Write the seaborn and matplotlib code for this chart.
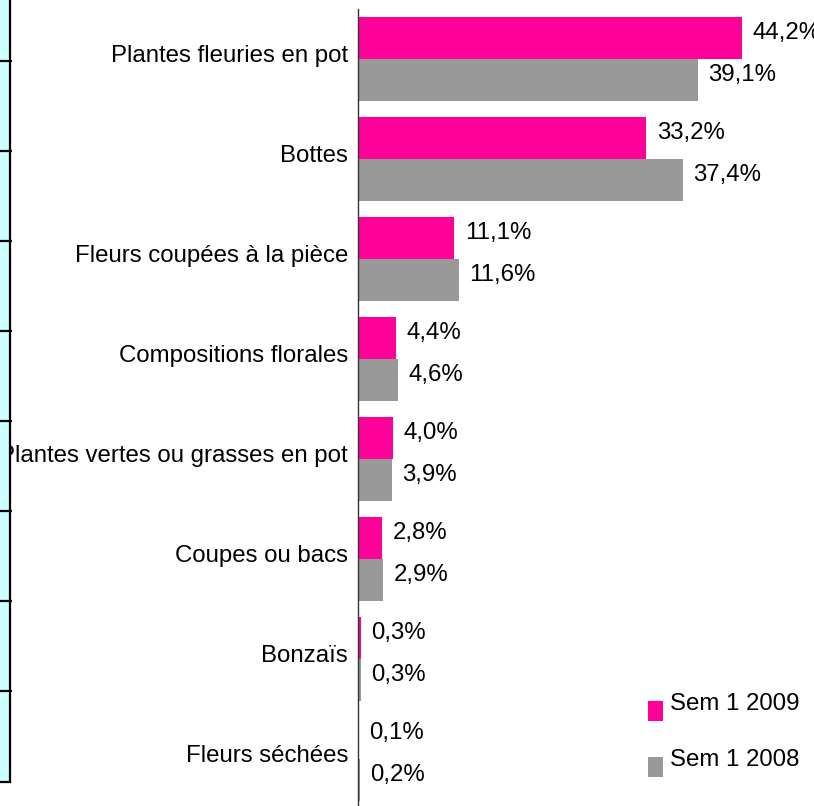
import matplotlib
matplotlib.use("Agg")
import matplotlib.pyplot as plt
import matplotlib.transforms as mtransforms
from matplotlib.patches import Rectangle
from matplotlib.legend_handler import HandlerPatch
import seaborn as sns
import pandas as pd

categories = [
    "Plantes fleuries en pot",
    "Bottes",
    "Fleurs coupées à la pièce",
    "Compositions florales",
    "Plantes vertes ou grasses en pot",
    "Coupes ou bacs",
    "Bonzaïs",
    "Fleurs séchées",
]
series_names = ["Sem 1 2009", "Sem 1 2008"]
values_2009 = [44.2, 33.2, 11.1, 4.4, 4.0, 2.8, 0.3, 0.1]
values_2008 = [39.1, 37.4, 11.6, 4.6, 3.9, 2.9, 0.3, 0.2]
colors = ["#FF0099", "#999999"]

df = pd.DataFrame({
    "cat": categories * 2,
    "value": values_2009 + values_2008,
    "series": [series_names[0]] * len(categories) + [series_names[1]] * len(categories),
})

sns.set_style("white")
plt.rcParams["font.family"] = ["Liberation Sans", "DejaVu Sans"]
plt.rcParams["text.color"] = "black"
FS = 17.3

W, H = 814, 806
fig = plt.figure(figsize=(W / 100, H / 100), dpi=100)
ax = fig.add_axes([358 / W, 0, (W - 358) / W, (H - 9) / H])

sns.barplot(data=df, x="value", y="cat", hue="series", palette=colors,
            order=categories, hue_order=series_names, orient="h",
            width=0.84, saturation=1, linewidth=0, ax=ax)

ax.set_xlim(0, (W - 358) / 8.688)
ax.set_ylim((H - 59) / 100, -0.5)
ax.set_xlabel("")
ax.set_ylabel("")
ax.set_xticks([])
ax.tick_params(axis="y", length=0, pad=7.2, labelsize=FS, colors="black")
up = mtransforms.ScaledTranslation(0, 4 / 72, fig.dpi_scale_trans)
for lab in ax.get_yticklabels():
    lab.set_transform(lab.get_transform() + up)
for s in ["top", "right", "bottom"]:
    ax.spines[s].set_visible(False)
ax.spines["left"].set_color("#333333")
ax.spines["left"].set_linewidth(1.0)
ax.set_facecolor("white")

# value labels
for cont in ax.containers:
    for patch, val in zip(cont.patches, cont.datavalues):
        yc = patch.get_y() + patch.get_height() / 2
        ax.annotate(f"{val:.1f}".replace(".", ",") + "%",
                    xy=(patch.get_width(), yc), xytext=(7.5, 3.5),
                    textcoords="offset points", ha="left", va="center",
                    fontsize=FS, color="black", annotation_clip=False)

# legend
old = ax.get_legend()
if old is not None:
    old.remove()
handles, labels = ax.get_legend_handles_labels()


def low_rect(legend, orig_handle, xdescent, ydescent, width, height, fontsize):
    return Rectangle((-xdescent, -ydescent - 6.5), width, height)


leg = ax.legend(handles, labels, loc="upper left",
                bbox_to_anchor=(648 / W, 1 - 692 / H), bbox_transform=fig.transFigure,
                frameon=False, fontsize=FS, handlelength=0.625, handleheight=0.875,
                handletextpad=0.3, labelspacing=1.38, borderpad=0, borderaxespad=0,
                labelcolor="black",
                handler_map={h: HandlerPatch(patch_func=low_rect) for h in handles})

# left strip (cropped table fragment)
strip = fig.add_axes([0, (H - 782) / H, 10 / W, 782 / H])
strip.set_zorder(5)
strip.set_facecolor("#CCFFFF")
strip.set_xlim(0, 10)
strip.set_ylim(782, 0)
strip.set_xticks([])
strip.set_yticks([])
for s in ["top", "left"]:
    strip.spines[s].set_visible(False)
strip.spines["right"].set_color("black")
strip.spines["right"].set_linewidth(1.6)
strip.spines["bottom"].set_color("black")
strip.spines["bottom"].set_linewidth(1.6)
for yy in [61, 151, 241, 331, 421, 511, 601, 691]:
    strip.plot([0, 12], [yy, yy], color="black", lw=1.6, clip_on=False,
               solid_capstyle="butt")

fig.savefig("out.png", dpi=100, facecolor="white")
